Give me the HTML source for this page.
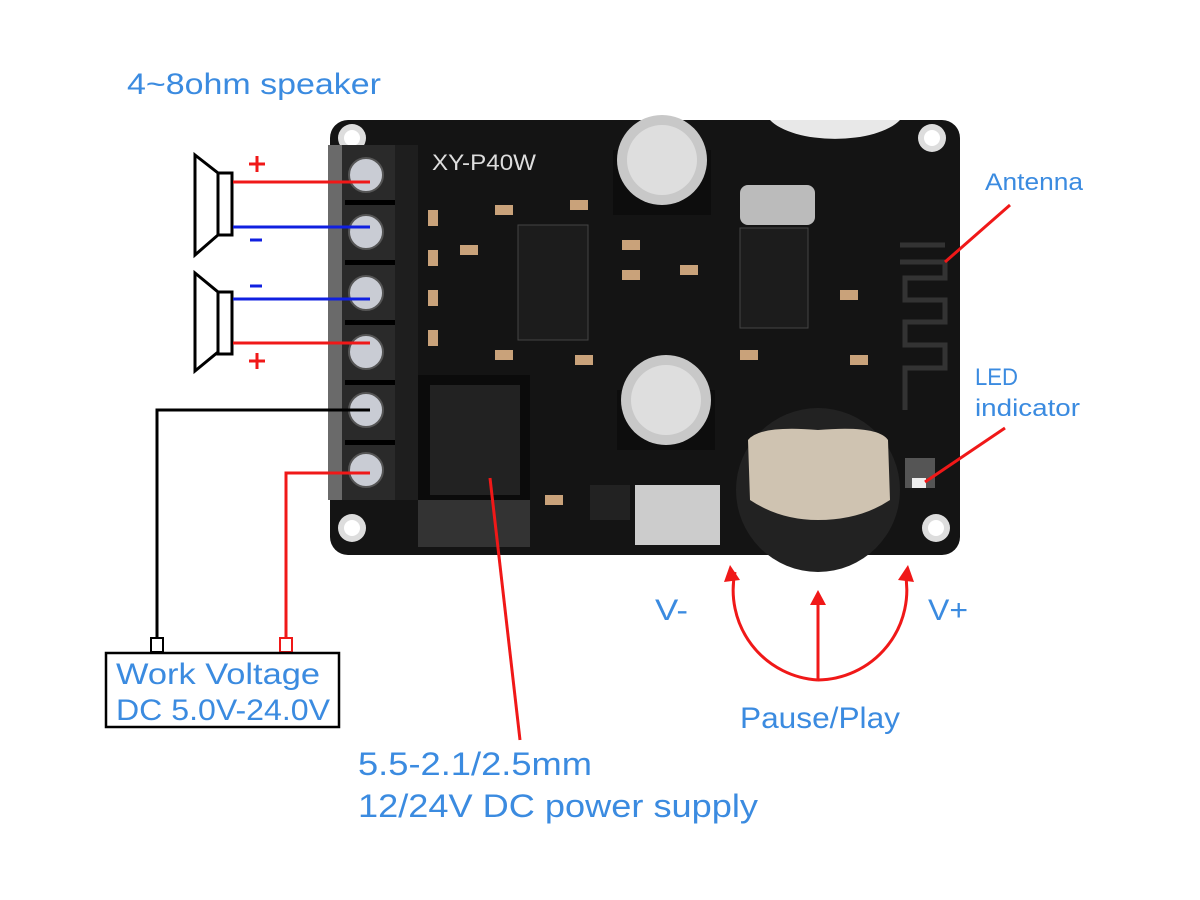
<!DOCTYPE html>
<html><head><meta charset="utf-8"><style>
html,body{margin:0;padding:0;background:#fff;}
svg{display:block;}
text{font-family:"Liberation Sans",sans-serif;}
</style></head><body>
<svg width="1200" height="900" viewBox="0 0 1200 900" xmlns="http://www.w3.org/2000/svg">
<rect width="1200" height="900" fill="#fff"/>
<!-- PCB -->
<rect x="330" y="120" width="630" height="435" rx="18" fill="#141414"/>
<circle cx="352" cy="138" r="14" fill="#ddd"/><circle cx="352" cy="138" r="8" fill="#fff"/>
<circle cx="932" cy="138" r="14" fill="#ddd"/><circle cx="932" cy="138" r="8" fill="#fff"/>
<circle cx="352" cy="528" r="14" fill="#ddd"/><circle cx="352" cy="528" r="8" fill="#fff"/>
<circle cx="936" cy="528" r="14" fill="#ddd"/><circle cx="936" cy="528" r="8" fill="#fff"/>
<path d="M770 120 A70 30 0 0 0 900 120 Z" fill="#e8e8e8"/>
<!-- terminal block -->
<rect x="328" y="145" width="90" height="355" fill="#2a2a2a"/>
<rect x="328" y="145" width="14" height="355" fill="#6a6a6a"/>
<rect x="395" y="145" width="23" height="355" fill="#1e1e1e"/>
<g fill="#c9ccd4" stroke="#555" stroke-width="2">
<circle cx="366" cy="175" r="17"/><circle cx="366" cy="232" r="17"/><circle cx="366" cy="293" r="17"/>
<circle cx="366" cy="352" r="17"/><circle cx="366" cy="410" r="17"/><circle cx="366" cy="470" r="17"/>
</g>
<g fill="#000"><rect x="345" y="200" width="50" height="5"/><rect x="345" y="260" width="50" height="5"/><rect x="345" y="320" width="50" height="5"/><rect x="345" y="380" width="50" height="5"/><rect x="345" y="440" width="50" height="5"/></g>
<!-- DC jack -->
<rect x="418" y="375" width="112" height="172" fill="#0b0b0b"/>
<rect x="430" y="385" width="90" height="110" fill="#222"/>
<rect x="418" y="500" width="112" height="47" fill="#333"/>
<!-- capacitors -->
<rect x="613" y="150" width="98" height="65" fill="#0d0d0d"/>
<circle cx="662" cy="160" r="45" fill="#c8c8c8"/><circle cx="662" cy="160" r="35" fill="#dedede"/>
<rect x="617" y="390" width="98" height="60" fill="#0d0d0d"/>
<circle cx="666" cy="400" r="45" fill="#c8c8c8"/><circle cx="666" cy="400" r="35" fill="#dedede"/>
<!-- chips -->
<rect x="518" y="225" width="70" height="115" fill="#1c1c1c" stroke="#444"/>
<rect x="740" y="228" width="68" height="100" fill="#1c1c1c" stroke="#444"/>
<rect x="740" y="185" width="75" height="40" rx="8" fill="#bbb"/>
<rect x="635" y="485" width="85" height="60" fill="#ccc"/>
<rect x="590" y="485" width="40" height="35" fill="#222"/>
<g fill="#c9a27a">
<rect x="428" y="210" width="10" height="16"/><rect x="428" y="250" width="10" height="16"/><rect x="428" y="290" width="10" height="16"/><rect x="428" y="330" width="10" height="16"/>
<rect x="495" y="205" width="18" height="10"/><rect x="460" y="245" width="18" height="10"/><rect x="495" y="350" width="18" height="10"/>
<rect x="622" y="240" width="18" height="10"/><rect x="622" y="270" width="18" height="10"/><rect x="680" y="265" width="18" height="10"/>
<rect x="570" y="200" width="18" height="10"/><rect x="575" y="355" width="18" height="10"/><rect x="545" y="495" width="18" height="10"/>
<rect x="840" y="290" width="18" height="10"/><rect x="740" y="350" width="18" height="10"/><rect x="850" y="355" width="18" height="10"/>
</g>
<path d="M900 245 L945 245 M900 262 L945 262 L945 278 L905 278 L905 300 L945 300 L945 322 L905 322 L905 345 L945 345 L945 368 L905 368 L905 410" stroke="#333" stroke-width="5" fill="none"/>
<circle cx="818" cy="490" r="82" fill="#222"/>
<path d="M748 440 Q760 425 818 430 Q878 425 888 440 L890 500 Q860 520 818 520 Q780 520 750 500 Z" fill="#cfc3b1"/>
<rect x="905" y="458" width="30" height="30" fill="#555"/><rect x="912" y="478" width="14" height="10" fill="#eee"/>
<text x="432" y="170" font-size="22" fill="#ddd" textLength="104" lengthAdjust="spacingAndGlyphs">XY-P40W</text>

<g fill="#fff" stroke="#000" stroke-width="3">
<polygon points="195,155 218,173 218,235 195,255"/><rect x="218" y="173" width="14" height="62"/>
<polygon points="195,273 218,292 218,352 195,371"/><rect x="218" y="292" width="14" height="62"/>
</g>
<g stroke-width="3" fill="none">
<line x1="233" y1="182" x2="370" y2="182" stroke="#f01818"/>
<line x1="233" y1="227" x2="370" y2="227" stroke="#1020e0"/>
<line x1="233" y1="299" x2="370" y2="299" stroke="#1020e0"/>
<line x1="233" y1="343" x2="370" y2="343" stroke="#f01818"/>
<polyline points="370,410 157,410 157,640" stroke="#000"/>
<polyline points="370,473 286,473 286,640" stroke="#f01818"/>
<line x1="490" y1="478" x2="520" y2="740" stroke="#f01818"/>
<line x1="1010" y1="205" x2="945" y2="262" stroke="#f01818"/>
<line x1="1005" y1="428" x2="925" y2="482" stroke="#f01818"/>
<path d="M818 680 A90 90 0 0 1 735 572" stroke="#f01818"/>
<path d="M818 680 A90 90 0 0 0 905 572" stroke="#f01818"/>
<line x1="818" y1="680" x2="818" y2="598" stroke="#f01818"/>
</g>
<g fill="#f01818">
<polygon points="730,565 724,582 740,580"/><polygon points="908,565 914,582 898,580"/><polygon points="818,590 810,605 826,605"/>
</g>
<g stroke-width="3">
<line x1="249" y1="164" x2="265" y2="164" stroke="#f01818"/><line x1="257" y1="156" x2="257" y2="172" stroke="#f01818"/>
<line x1="250" y1="240" x2="262" y2="240" stroke="#1020e0"/>
<line x1="250" y1="286" x2="262" y2="286" stroke="#1020e0"/>
<line x1="249" y1="361" x2="265" y2="361" stroke="#f01818"/><line x1="257" y1="353" x2="257" y2="369" stroke="#f01818"/>
</g>
<rect x="151" y="638" width="12" height="14" fill="#fff" stroke="#000" stroke-width="2"/>
<rect x="280" y="638" width="12" height="14" fill="#fff" stroke="#f01818" stroke-width="2"/>
<rect x="106" y="653" width="233" height="74" fill="#fff" stroke="#000" stroke-width="2.5"/>
<g fill="#3b8be0" lengthAdjust="spacingAndGlyphs">
<text x="127" y="94" font-size="30" textLength="254" lengthAdjust="spacingAndGlyphs">4~8ohm speaker</text>
<text x="116" y="684" font-size="30" textLength="204" lengthAdjust="spacingAndGlyphs">Work Voltage</text>
<text x="116" y="720" font-size="30" textLength="214" lengthAdjust="spacingAndGlyphs">DC 5.0V-24.0V</text>
<text x="358" y="775" font-size="32" textLength="234" lengthAdjust="spacingAndGlyphs">5.5-2.1/2.5mm</text>
<text x="358" y="817" font-size="32" textLength="400" lengthAdjust="spacingAndGlyphs">12/24V DC power supply</text>
<text x="740" y="728" font-size="30" textLength="160" lengthAdjust="spacingAndGlyphs">Pause/Play</text>
<text x="655" y="620" font-size="30" textLength="33" lengthAdjust="spacingAndGlyphs">V-</text>
<text x="928" y="620" font-size="30" textLength="40" lengthAdjust="spacingAndGlyphs">V+</text>
<text x="985" y="190" font-size="24" textLength="98" lengthAdjust="spacingAndGlyphs">Antenna</text>
<text x="975" y="385" font-size="24" textLength="43" lengthAdjust="spacingAndGlyphs">LED</text>
<text x="975" y="416" font-size="24" textLength="105" lengthAdjust="spacingAndGlyphs">indicator</text>
</g>
</svg>
</body></html>
